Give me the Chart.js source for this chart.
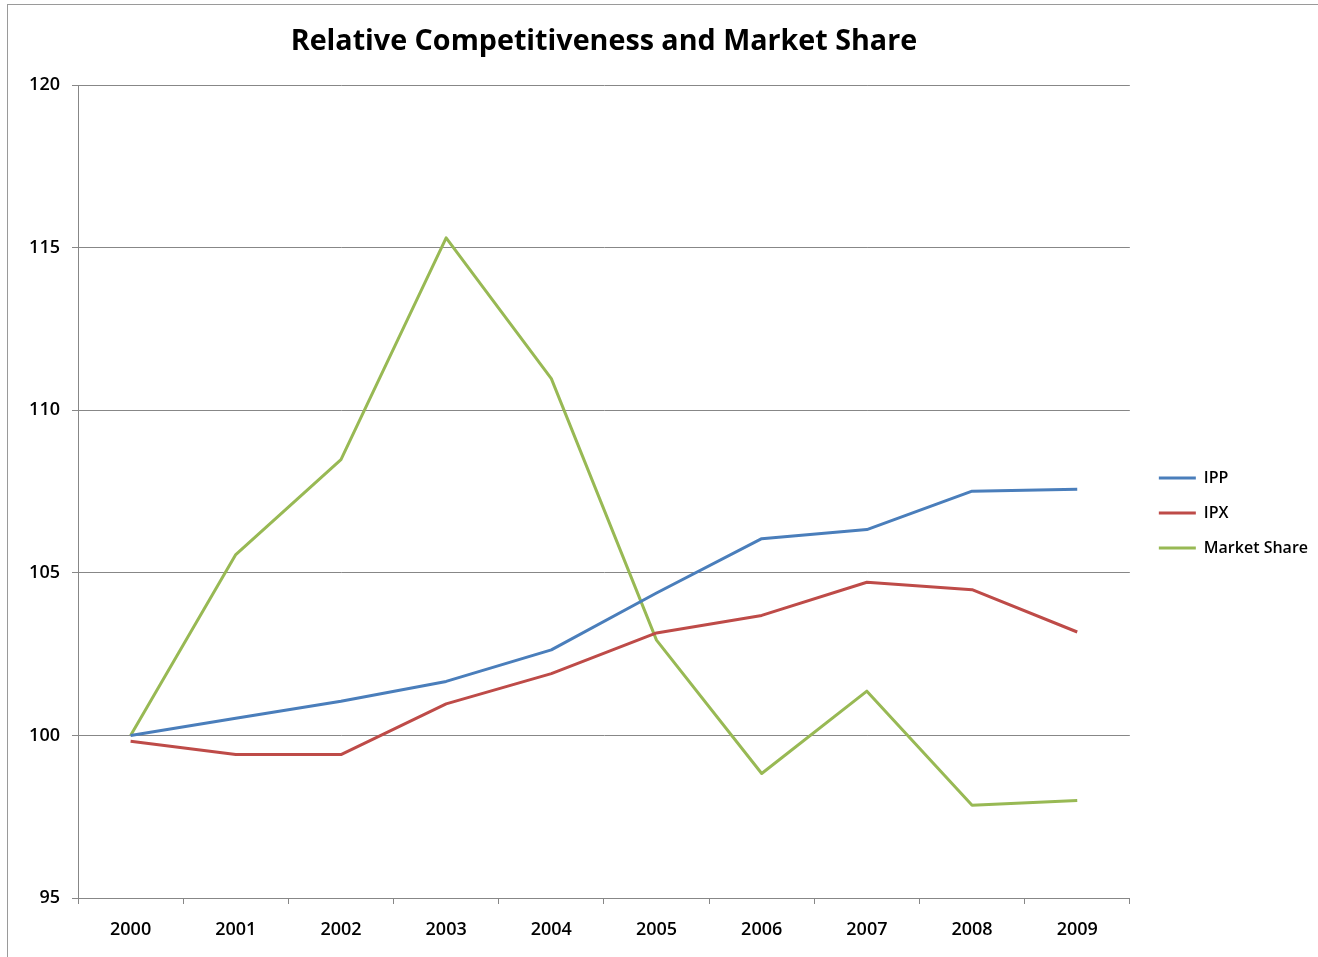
<!DOCTYPE html>
<html>
<head>
<meta charset="utf-8">
<script src="https://cdn.jsdelivr.net/npm/chart.js@4.4.1/dist/chart.umd.min.js"></script>
<style>
  html, body { margin: 0; padding: 0; background: #fff; overflow: hidden; }
  #wrap { position: absolute; left: 0; top: 0; width: 1318px; height: 957px; }
  #frame { position: absolute; left: 7px; top: 4px; width: 2000px; height: 2000px;
           border-top: 1px solid #9a9a9a; border-left: 1px solid #9a9a9a; pointer-events: none; }
</style>
</head>
<body>
<div id="wrap"><canvas id="c" width="1318" height="957"></canvas></div>
<div id="frame"></div>
<script>
const years = ['2000','2001','2002','2003','2004','2005','2006','2007','2008','2009'];
const ipp = [100.0, 100.53, 101.05, 101.66, 102.63, 104.38, 106.05, 106.33, 107.51, 107.57];
const ipx = [99.82, 99.41, 99.41, 100.97, 101.90, 103.15, 103.69, 104.71, 104.48, 103.18];
const marketShare = [100.0, 105.56, 108.48, 115.30, 110.97, 102.93, 98.83, 101.36, 97.85, 98.0];
const yTicks = [95, 100, 105, 110, 115, 120];

const FONT = '"Open Sans", Lato, sans-serif';
const GRID = '#878787';

const legendShift = {
  id: 'legendShift',
  afterLayout(chart) {
    const lg = chart.legend;
    if (!lg) return;
    lg.left += 10; lg.right += 10;
    lg.top += 34.5; lg.bottom += 34.5;
  }
};

new Chart(document.getElementById('c'), {
  type: 'line',
  data: {
    labels: years,
    datasets: [
      { label: 'IPP', data: ipp, borderColor: '#4A7EBB', backgroundColor: '#4A7EBB' },
      { label: 'IPX', data: ipx, borderColor: '#BE4B48', backgroundColor: '#BE4B48' },
      { label: 'Market Share', data: marketShare, borderColor: '#98B954', backgroundColor: '#98B954' }
    ]
  },
  options: {
    responsive: false,
    animation: false,
    devicePixelRatio: 1,
    datasets: { line: { borderWidth: 3, pointRadius: 0, tension: 0, borderJoinStyle: 'round', borderCapStyle: 'butt' } },
    layout: { padding: { top: 0, left: 0, right: 10, bottom: 0 } },
    plugins: {
      title: {
        display: true,
        fullSize: false,
        text: 'Relative Competitiveness and Market Share',
        color: '#000',
        font: { family: FONT, size: 28.7, weight: 'bold', lineHeight: 1.2 },
        padding: { top: 25, bottom: 25.6 }
      },
      legend: {
        position: 'right',
        labels: {
          color: '#000',
          font: { family: FONT, size: 16, weight: '600' },
          usePointStyle: true,
          pointStyle: 'line',
          pointStyleWidth: 37,
          padding: 19
        }
      },
      tooltip: { enabled: false }
    },
    scales: {
      x: {
        type: 'category',
        offset: true,
        grid: { display: true, drawOnChartArea: false, drawTicks: true, tickLength: 6, offset: true, color: GRID },
        border: { display: true, color: GRID, width: 1 },
        ticks: { color: '#000', font: { family: FONT, size: 18, weight: '600' }, padding: 15, maxRotation: 0, autoSkip: false },
        afterFit(s) { s.height = 59; }
      },
      y: {
        min: 95, max: 120,
        afterBuildTicks(s) { s.ticks = yTicks.map(v => ({ value: v })); },
        grid: { color: GRID, drawTicks: true, tickLength: 6, lineWidth: 1 },
        border: { display: true, color: GRID, width: 1 },
        ticks: { color: '#000', font: { family: FONT, size: 18, weight: '600' }, padding: 12 },
        afterFit(s) { s.width = 78; }
      }
    }
  },
  plugins: [legendShift]
});
</script>
</body>
</html>
